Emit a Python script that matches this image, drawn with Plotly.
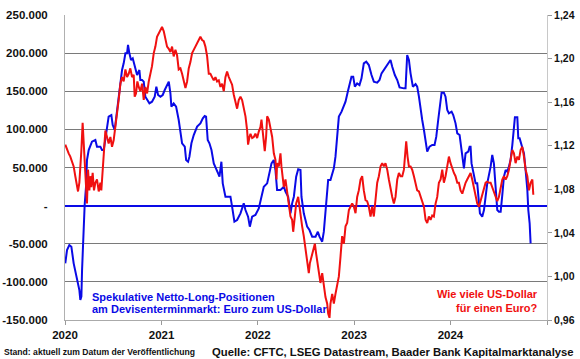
import pandas as pd
import plotly.graph_objects as go

# CFTC speculative net long positions, EUR (decimal year, contracts)
cftc_t = [2020.003, 2020.021, 2020.045, 2020.066, 2020.090, 2020.114, 2020.135, 2020.149, 2020.159, 2020.170,
          2020.177, 2020.187, 2020.194, 2020.204, 2020.218, 2020.228, 2020.246, 2020.280, 2020.315, 2020.332,
          2020.367, 2020.384, 2020.402, 2020.419, 2020.436, 2020.453, 2020.481, 2020.495, 2020.516, 2020.540,
          2020.557, 2020.575, 2020.592, 2020.609, 2020.627, 2020.644, 2020.654, 2020.668, 2020.685, 2020.703,
          2020.723, 2020.748, 2020.772, 2020.782, 2020.800, 2020.817, 2020.834, 2020.852, 2020.876, 2020.903,
          2020.931, 2020.948, 2020.966, 2020.990, 2021.014, 2021.035, 2021.059, 2021.077, 2021.094, 2021.104,
          2021.128, 2021.153, 2021.180, 2021.198, 2021.215, 2021.243, 2021.257, 2021.277, 2021.291, 2021.312,
          2021.336, 2021.371, 2021.405, 2021.430, 2021.450, 2021.464, 2021.481, 2021.499, 2021.520, 2021.544,
          2021.561, 2021.589, 2021.603, 2021.623, 2021.637, 2021.650, 2021.665, 2021.682, 2021.717, 2021.734,
          2021.758, 2021.786, 2021.821, 2021.855, 2021.873, 2021.900, 2021.918, 2021.942, 2021.976, 2022.011,
          2022.039, 2022.063, 2022.098, 2022.115, 2022.143, 2022.167, 2022.184, 2022.201, 2022.236, 2022.271,
          2022.288, 2022.316, 2022.340, 2022.357, 2022.375, 2022.399, 2022.420, 2022.444, 2022.454, 2022.478,
          2022.496, 2022.513, 2022.537, 2022.565, 2022.600, 2022.624, 2022.641, 2022.669, 2022.686, 2022.703,
          2022.721, 2022.731, 2022.755, 2022.773, 2022.790, 2022.807, 2022.825, 2022.842, 2022.870, 2022.894,
          2022.911, 2022.939, 2022.956, 2022.973, 2022.991, 2023.008, 2023.032, 2023.056, 2023.077, 2023.101,
          2023.126, 2023.153, 2023.181, 2023.205, 2023.240, 2023.264, 2023.285, 2023.309, 2023.326, 2023.361,
          2023.378, 2023.396, 2023.423, 2023.448, 2023.472, 2023.517, 2023.534, 2023.551, 2023.569, 2023.586,
          2023.610, 2023.638, 2023.655, 2023.673, 2023.690, 2023.707, 2023.725, 2023.742, 2023.759, 2023.783,
          2023.811, 2023.835, 2023.853, 2023.873, 2023.891, 2023.908, 2023.932, 2023.949, 2023.967, 2023.984,
          2024.012, 2024.029, 2024.053, 2024.071, 2024.095, 2024.109, 2024.123, 2024.140, 2024.157, 2024.185,
          2024.199, 2024.209, 2024.219, 2024.233, 2024.261, 2024.278, 2024.296, 2024.306, 2024.330, 2024.348,
          2024.365, 2024.382, 2024.417, 2024.434, 2024.451, 2024.469, 2024.486, 2024.503, 2024.521, 2024.538,
          2024.555, 2024.573, 2024.590, 2024.607, 2024.624, 2024.642, 2024.659, 2024.669, 2024.694, 2024.704,
          2024.718, 2024.728, 2024.746, 2024.763, 2024.780, 2024.798, 2024.808, 2024.822, 2024.832]
cftc_v = [-75700, -58200, -51700, -53900, -75700, -88800, -101900, -110700, -123800, -119400,
          -84500, -49500, -14500, 800, 24800, 59800, 72900, 83900, 86100, 77300,
          77300, 72900, 72900, 86100, 103600, 116700, 118800, 105700, 99200, 125400,
          138500, 156000, 177900, 186600, 199700, 199700, 210700, 199700, 191000, 193200,
          182200, 171300, 177900, 164700, 164700, 162600, 142900, 138500, 134100, 136300,
          142900, 156000, 145100, 142900, 145100, 151600, 158200, 162600, 147300, 129800,
          134100, 129800, 112300, 94800, 81700, 77300, 59800, 57600, 64200, 81700,
          92600, 103600, 107900, 114500, 117500, 116700, 86100, 81700, 72900, 55400,
          51100, 42300, 37900, 57600, 29200, 20500, 11700, 11700, 11700, -1400,
          -21100, -18900, -10100, 3000, -5800, -14500, -27600, -14500, -12300, -3600,
          11700, 24800, 29200, 37900, 55400, 59800, 46700, 20500, 20500, 24800,
          18300, 11700, -10100, 3000, 11700, 37900, 47600, 46700, 11700, -10100,
          -18900, -27600, -32000, -40700, -40700, -34200, -40700, -47300, -34200, -5800,
          11700, 33600, 33600, 42300, 48900, 64200, 90400, 116700, 123200, 129800,
          136300, 151600, 160400, 169100, 169100, 156000, 160400, 158200, 166900, 186600,
          188800, 184400, 171300, 162600, 161300, 164700, 173500, 177900, 180100, 186600,
          191000, 182200, 171300, 164700, 155100, 153800, 153800, 197500, 191000, 173500,
          156000, 159500, 156000, 142900, 125400, 112300, 99200, 86100, 70800, 77300,
          79500, 79500, 90400, 112300, 134100, 148100, 148100, 142900, 125400, 121000,
          123200, 118800, 107900, 94800, 92600, 77300, 64200, 48900, 68600, 70800,
          77300, 77300, 55400, 46700, 29200, 29200, 800, -10100, -14500, -5800,
          11700, 29200, 51100, 66400, 55400, 29200, -5800, -8000, -8000, 13900,
          37900, 46700, 44500, 51100, 59800, 79500, 107900, 115800, 115800, 88200,
          88200, 83900, 77300, 68600, 46700, 20500, -5800, -23300, -49500]

# EUR/USD exchange rate (decimal year, USD per EUR)
fx_t = [2020.003, 2020.021, 2020.038, 2020.055, 2020.073, 2020.090, 2020.107, 2020.125, 2020.135, 2020.149,
        2020.159, 2020.170, 2020.183, 2020.194, 2020.204, 2020.218, 2020.228, 2020.239, 2020.253, 2020.263,
        2020.273, 2020.287, 2020.301, 2020.315, 2020.332, 2020.350, 2020.367, 2020.377, 2020.391, 2020.402,
        2020.419, 2020.436, 2020.453, 2020.471, 2020.488, 2020.505, 2020.523, 2020.540, 2020.557, 2020.575,
        2020.592, 2020.609, 2020.627, 2020.644, 2020.661, 2020.678, 2020.696, 2020.713, 2020.723, 2020.737,
        2020.751, 2020.765, 2020.782, 2020.800, 2020.817, 2020.834, 2020.852, 2020.869, 2020.886, 2020.903,
        2020.921, 2020.938, 2020.955, 2020.973, 2020.990, 2021.007, 2021.025, 2021.042, 2021.059, 2021.077,
        2021.094, 2021.111, 2021.128, 2021.146, 2021.163, 2021.180, 2021.198, 2021.215, 2021.232, 2021.250,
        2021.267, 2021.284, 2021.302, 2021.319, 2021.336, 2021.353, 2021.371, 2021.388, 2021.405, 2021.423,
        2021.440, 2021.457, 2021.475, 2021.492, 2021.509, 2021.526, 2021.544, 2021.561, 2021.578, 2021.596,
        2021.613, 2021.630, 2021.648, 2021.665, 2021.682, 2021.700, 2021.717, 2021.734, 2021.751, 2021.769,
        2021.786, 2021.803, 2021.821, 2021.838, 2021.855, 2021.873, 2021.890, 2021.900, 2021.914, 2021.925,
        2021.942, 2021.959, 2021.976, 2021.994, 2022.011, 2022.028, 2022.039, 2022.053, 2022.073, 2022.087,
        2022.098, 2022.115, 2022.132, 2022.150, 2022.167, 2022.184, 2022.195, 2022.201, 2022.219, 2022.236,
        2022.246, 2022.260, 2022.271, 2022.288, 2022.305, 2022.323, 2022.340, 2022.357, 2022.368, 2022.385,
        2022.399, 2022.420, 2022.433, 2022.447, 2022.461, 2022.478, 2022.496, 2022.513, 2022.530, 2022.541,
        2022.558, 2022.572, 2022.593, 2022.606, 2022.620, 2022.634, 2022.651, 2022.669, 2022.686, 2022.703,
        2022.721, 2022.731, 2022.745, 2022.755, 2022.773, 2022.790, 2022.807, 2022.825, 2022.842, 2022.859,
        2022.876, 2022.894, 2022.911, 2022.928, 2022.946, 2022.963, 2022.980, 2022.998, 2023.015, 2023.032,
        2023.049, 2023.067, 2023.084, 2023.101, 2023.119, 2023.136, 2023.153, 2023.171, 2023.188, 2023.205,
        2023.223, 2023.240, 2023.257, 2023.275, 2023.292, 2023.309, 2023.326, 2023.344, 2023.361, 2023.378,
        2023.396, 2023.413, 2023.430, 2023.448, 2023.465, 2023.482, 2023.500, 2023.517, 2023.527, 2023.541,
        2023.555, 2023.569, 2023.586, 2023.603, 2023.621, 2023.638, 2023.655, 2023.673, 2023.690, 2023.707,
        2023.725, 2023.742, 2023.759, 2023.776, 2023.794, 2023.811, 2023.828, 2023.846, 2023.863, 2023.880,
        2023.898, 2023.915, 2023.932, 2023.949, 2023.967, 2023.984, 2024.001, 2024.019, 2024.036, 2024.053,
        2024.071, 2024.088, 2024.105, 2024.123, 2024.140, 2024.157, 2024.174, 2024.192, 2024.209, 2024.226,
        2024.244, 2024.261, 2024.278, 2024.296, 2024.313, 2024.330, 2024.348, 2024.365, 2024.382, 2024.400,
        2024.417, 2024.434, 2024.451, 2024.469, 2024.486, 2024.503, 2024.521, 2024.538, 2024.555, 2024.573,
        2024.590, 2024.607, 2024.624, 2024.642, 2024.659, 2024.676, 2024.694, 2024.711, 2024.728, 2024.746,
        2024.763, 2024.780, 2024.798, 2024.815, 2024.832, 2024.850, 2024.860]
fx_v = [1.121, 1.116, 1.113, 1.110, 1.105, 1.101, 1.092, 1.082, 1.078, 1.086,
        1.098, 1.116, 1.141, 1.122, 1.101, 1.073, 1.067, 1.098, 1.079, 1.092,
        1.082, 1.095, 1.079, 1.086, 1.089, 1.078, 1.086, 1.079, 1.098, 1.110,
        1.134, 1.128, 1.122, 1.128, 1.119, 1.125, 1.137, 1.153, 1.162, 1.177,
        1.183, 1.179, 1.190, 1.183, 1.186, 1.191, 1.183, 1.185, 1.165, 1.168,
        1.179, 1.174, 1.170, 1.177, 1.162, 1.174, 1.168, 1.179, 1.186, 1.193,
        1.205, 1.211, 1.220, 1.223, 1.226, 1.229, 1.225, 1.217, 1.211, 1.209,
        1.206, 1.211, 1.202, 1.208, 1.203, 1.190, 1.191, 1.186, 1.180, 1.173,
        1.179, 1.191, 1.197, 1.205, 1.208, 1.211, 1.214, 1.217, 1.220, 1.217,
        1.216, 1.211, 1.202, 1.186, 1.186, 1.183, 1.180, 1.183, 1.179, 1.180,
        1.174, 1.177, 1.170, 1.183, 1.188, 1.183, 1.179, 1.176, 1.167, 1.159,
        1.154, 1.162, 1.165, 1.162, 1.156, 1.147, 1.134, 1.121, 1.128, 1.131,
        1.127, 1.128, 1.131, 1.127, 1.133, 1.137, 1.144, 1.133, 1.115, 1.128,
        1.147, 1.144, 1.134, 1.128, 1.113, 1.107, 1.089, 1.104, 1.101, 1.113,
        1.101, 1.092, 1.082, 1.089, 1.079, 1.067, 1.055, 1.052, 1.041, 1.055,
        1.067, 1.073, 1.064, 1.052, 1.046, 1.037, 1.024, 1.012, 1.003, 1.012,
        1.018, 1.024, 1.030, 1.021, 1.012, 1.000, 0.994, 1.003, 0.991, 0.981,
        0.975, 0.966, 0.962, 0.975, 0.984, 0.975, 0.984, 0.991, 1.000, 1.018,
        1.037, 1.030, 1.046, 1.049, 1.061, 1.064, 1.067, 1.064, 1.058, 1.073,
        1.079, 1.089, 1.092, 1.079, 1.070, 1.069, 1.064, 1.055, 1.064, 1.055,
        1.073, 1.086, 1.092, 1.101, 1.104, 1.101, 1.104, 1.098, 1.089, 1.079,
        1.073, 1.067, 1.073, 1.089, 1.095, 1.092, 1.092, 1.098, 1.107, 1.124,
        1.110, 1.101, 1.101, 1.098, 1.092, 1.086, 1.079, 1.078, 1.073, 1.070,
        1.064, 1.052, 1.049, 1.055, 1.052, 1.056, 1.055, 1.067, 1.073, 1.086,
        1.089, 1.098, 1.086, 1.092, 1.101, 1.110, 1.104, 1.098, 1.095, 1.092,
        1.086, 1.086, 1.079, 1.076, 1.082, 1.086, 1.089, 1.093, 1.095, 1.089,
        1.082, 1.076, 1.067, 1.064, 1.069, 1.075, 1.079, 1.086, 1.087, 1.086,
        1.086, 1.082, 1.078, 1.073, 1.069, 1.073, 1.082, 1.089, 1.092, 1.089,
        1.092, 1.098, 1.107, 1.116, 1.113, 1.104, 1.110, 1.107, 1.116, 1.119,
        1.110, 1.098, 1.092, 1.079, 1.086, 1.089, 1.075]

year_ticks = ["2020", "2021", "2022", "2023", "2024", "2025"]
year_labels = ["2020", "2021", "2022", "2023", "2024", ""]
left_ticks = [-150000, -100000, -50000, 0, 50000, 100000, 150000, 200000, 250000]
left_labels = ["-150.000", "-100.000", "-50.000", "-", "50.000", "100.000", "150.000", "200.000", "250.000"]
right_ticks = [0.96, 1.00, 1.04, 1.08, 1.12, 1.16, 1.20, 1.24]
right_labels = ["0,96", "1,00", "1,04", "1,08", "1,12", "1,16", "1,20", "1,24"]


def to_dates(ts):
    base = pd.Timestamp("2020-01-01")
    return [base + pd.to_timedelta((t - 2020) * 365.25, unit="D") for t in ts]


BLUE = "#0a0ae6"
RED = "#f01010"
FONT = "Liberation Sans"

fig = go.Figure()
fig.add_trace(go.Scatter(x=to_dates(cftc_t), y=cftc_v, mode="lines",
                         line=dict(color=BLUE, width=2), yaxis="y", showlegend=False))
fig.add_trace(go.Scatter(x=to_dates(fx_t), y=fx_v, mode="lines",
                         line=dict(color=RED, width=2), yaxis="y2", showlegend=False))

fig.update_layout(
    width=580, height=359,
    margin=dict(l=65, r=33, t=15, b=39, autoexpand=False),
    paper_bgcolor="white", plot_bgcolor="white",
    font=dict(family=FONT, color="#111111"),
    xaxis=dict(type="date", range=["2020-01-01", "2025-01-01"], automargin=False,
               tickvals=[pd.Timestamp(y + "-01-01") for y in year_ticks], ticktext=year_labels,
               ticks="outside", ticklen=4, tickcolor="#999999",
               showline=True, linecolor="#aaaaaa", linewidth=1, showgrid=False, zeroline=False,
               tickfont=dict(family=FONT, size=11.5, weight="bold", color="#111111")),
    yaxis=dict(range=[-150000, 250000], tickvals=left_ticks, ticktext=left_labels, automargin=False,
               showgrid=True, gridcolor="#7a7a7a", gridwidth=1,
               zeroline=True, zerolinecolor=BLUE, zerolinewidth=2,
               showline=True, linecolor="#b0b0b0", linewidth=1,
               ticks="outside", ticklen=14, tickcolor="rgba(255,255,255,0)",
               tickfont=dict(family=FONT, size=11.5, weight="bold", color="#111111")),
    yaxis2=dict(range=[0.96, 1.24], tickvals=right_ticks, ticktext=right_labels, automargin=False,
                overlaying="y", side="right", showgrid=False, zeroline=False,
                showline=True, linecolor="#c8c8c8", linewidth=1,
                ticks="outside", ticklen=4, tickcolor="#999999",
                tickfont=dict(family=FONT, size=10.5, weight="bold", color="#111111")),
)

ann = [
    dict(text="Spekulative Netto-Long-Positionen", x=(90 - 65) / 482, y=(320 - 297) / 305,
         xanchor="left", yanchor="middle", font=dict(color=BLUE, size=11)),
    dict(text="am Devisenterminmarkt: Euro zum US-Dollar", x=(90 - 65) / 482, y=(320 - 309) / 305,
         xanchor="left", yanchor="middle", font=dict(color=BLUE, size=11)),
    dict(text="Wie viele US-Dollar", x=(540 - 65) / 482, y=(320 - 294) / 305,
         xanchor="right", yanchor="middle", font=dict(color=RED, size=11)),
    dict(text="für einen Euro?", x=(540 - 65) / 482, y=(320 - 308) / 305,
         xanchor="right", yanchor="middle", font=dict(color=RED, size=11)),
    dict(text="Stand: aktuell zum Datum der Veröffentlichung", x=(2 - 65) / 482, y=(320 - 352) / 305,
         xanchor="left", yanchor="middle", font=dict(color="#111111", size=8.6)),
    dict(text="Quelle: CFTC, LSEG Datastream, Baader Bank Kapitalmarktanalyse", x=(576 - 65) / 482,
         y=(320 - 352) / 305, xanchor="right", yanchor="middle", font=dict(color="#111111", size=11.3)),
]
for a in ann:
    a.update(xref="paper", yref="paper", showarrow=False)
    a["font"].update(family=FONT, weight="bold")
    fig.add_annotation(**a)

fig.write_html("out.html", config={"displayModeBar": False},
               post_script="document.body.style.margin='0';document.body.style.padding='0';")
